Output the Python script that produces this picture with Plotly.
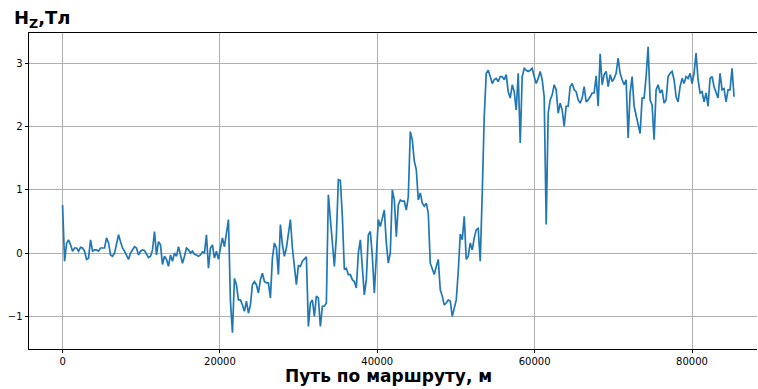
import numpy as np
import plotly.graph_objects as go

# Vertical magnetic field component along the route, sampled every 254 m
STEP_M = 254

hz_0_10km = [
    0.76, -0.13, 0.15, 0.21, 0.13, 0.03, 0.08, 0.08, 0.03, 0.09,
    0.08, 0.03, -0.10, -0.08, 0.21, 0.03, 0.05, 0.05, 0.03, 0.08,
    0.08, 0.08, 0.24, 0.16, -0.03, -0.05, 0.00, 0.13, 0.29, 0.18,
    0.08, 0.03, -0.05, -0.10, 0.00, 0.05, 0.10, 0.08, -0.03, 0.03,
]
hz_10_20km = [
    0.05, 0.04, -0.02, -0.07, -0.05, 0.05, 0.34, -0.03, 0.18, 0.13,
    -0.18, -0.05, -0.10, -0.21, -0.03, -0.13, 0.00, -0.05, 0.10, -0.05,
    -0.16, -0.05, 0.08, 0.05, 0.00, 0.03, -0.02, -0.03, -0.05, -0.03,
    0.02, 0.00, 0.29, -0.24, 0.08, 0.13, -0.08, 0.03, -0.10, 0.08,
]
hz_20_30km = [
    0.24, 0.10, 0.29, 0.53, -0.76, -1.26, -0.40, -0.50, -0.74, -0.74,
    -0.82, -0.92, -0.76, -0.95, -0.82, -0.50, -0.45, -0.50, -0.63, -0.42,
    -0.32, -0.45, -0.47, -0.47, -0.71, -0.08, 0.16, 0.08, -0.34, 0.45,
    0.13, -0.05, 0.08, 0.34, 0.53, 0.08, -0.24, -0.50, -0.20,
]
hz_30_40km = [
    -0.21, -0.13, -0.09, -0.06, -1.16, -0.79, -0.74, -1.00, -0.68, -0.71,
    -1.16, -0.84, -0.84, -0.79, 0.92, 0.53, 0.08, -0.21, 0.26, 1.16,
    1.15, 0.58, -0.26, -0.24, -0.34, -0.34, -0.42, -0.45, -0.55, 0.00,
    0.21, -0.32, -0.66, -0.42, 0.29, 0.34, -0.05, -0.63, -0.05, 0.53,
]
hz_40_50km = [
    0.42, 0.53, 0.68, 0.16, -0.16, 0.00, 1.00, 0.84, 0.26, 0.76,
    0.84, 0.82, 0.82, 0.68, 0.89, 1.92, 1.79, 1.45, 1.32, 0.84,
    0.95, 0.79, 0.74, 0.79, 0.63, -0.16, -0.26, -0.34, -0.21, -0.10,
    -0.58, -0.68, -0.82, -0.79, -0.74, -0.76, -1.00, -0.85, -0.74, -0.29,
]
hz_50_60km = [
    0.30, 0.21, 0.58, -0.10, -0.05, 0.16, 0.05, 0.24, 0.37, 0.39,
    -0.13, 0.95, 2.16, 2.84, 2.89, 2.79, 2.68, 2.74, 2.76, 2.71,
    2.79, 2.79, 2.74, 2.82, 2.55, 2.45, 2.66, 2.55, 2.26, 2.84,
    1.74, 2.79, 2.92, 2.89, 2.87, 2.89, 2.92, 2.79, 2.68, 2.76,
]
hz_60_70km = [
    2.87, 2.74, 2.47, 0.45, 2.21, 2.42, 2.50, 2.66, 2.58, 2.21,
    2.37, 2.26, 2.00, 2.32, 2.32, 2.63, 2.68, 2.58, 2.55, 2.42,
    2.37, 2.45, 2.63, 2.39, 2.42, 2.47, 2.53, 2.53, 2.80, 2.32,
    3.15, 2.66, 2.82, 2.87, 2.63, 2.82, 2.71, 2.76, 2.84, 3.08,
]
hz_70_80km = [
    2.84, 2.74, 2.66, 2.74, 1.82, 2.53, 2.79, 2.32, 2.16, 2.05,
    1.89, 2.45, 2.45, 2.79, 3.26, 2.42, 2.34, 1.79, 2.58, 2.66,
    2.53, 2.58, 2.37, 2.42, 2.79, 2.84, 2.87, 2.74, 2.47, 2.39,
    2.63, 2.76, 2.68, 2.79, 2.76, 2.84, 2.68, 2.84, 3.16, 2.74,
]
hz_80_86km = [
    2.53, 2.55, 2.39, 2.53, 2.32, 2.76, 2.79, 2.63, 2.55, 2.45,
    2.84, 2.58, 2.60, 2.39, 2.58, 2.58, 2.92, 2.47,
]

hz = np.array(hz_0_10km + hz_10_20km + hz_20_30km + hz_30_40km + hz_40_50km
              + hz_50_60km + hz_60_70km + hz_70_80km + hz_80_86km)
distance = np.arange(len(hz)) * STEP_M

x_ticks = [0, 20000, 40000, 60000, 80000]
y_ticks = [-1, 0, 1, 2, 3]

FONT = "DejaVu Sans"

fig = go.Figure()
fig.add_trace(go.Scatter(
    x=distance, y=hz, mode="lines",
    line=dict(color="#1f77b4", width=1.7),
    showlegend=False, hoverinfo="skip",
))

axis_common = dict(
    showgrid=True, gridcolor="#b0b0b0", gridwidth=0.8,
    zeroline=False, showline=True, linecolor="black", linewidth=0.8,
    ticks="outside", ticklen=3.5, tickwidth=0.8, tickcolor="black",
    tickfont=dict(family=FONT, size=10, color="black"),
)

fig.update_xaxes(
    range=[-4267, 88262], tickvals=x_ticks, tickformat="d",
    mirror=True, **axis_common,
)
fig.update_yaxes(
    range=[-1.516, 3.478], tickvals=y_ticks, mirror=False,
    **axis_common,
)

fig.update_layout(
    width=758, height=389,
    margin=dict(l=29, r=1, t=33, b=40),
    plot_bgcolor="white", paper_bgcolor="white",
    font=dict(family=FONT, color="black"),
    annotations=[
        dict(text="<b>H<sub>Z</sub>,Тл</b>", xref="paper", yref="paper",
             x=-0.023, y=1.043, xanchor="left", yanchor="middle",
             showarrow=False, font=dict(family=FONT, size=18, color="black")),
        dict(text="<b>Путь по маршруту, м</b>", xref="paper", yref="paper",
             x=0.4945, y=-0.085, xanchor="center", yanchor="middle",
             showarrow=False, font=dict(family=FONT, size=17, color="black")),
    ],
)

fig.write_html("out.html")
